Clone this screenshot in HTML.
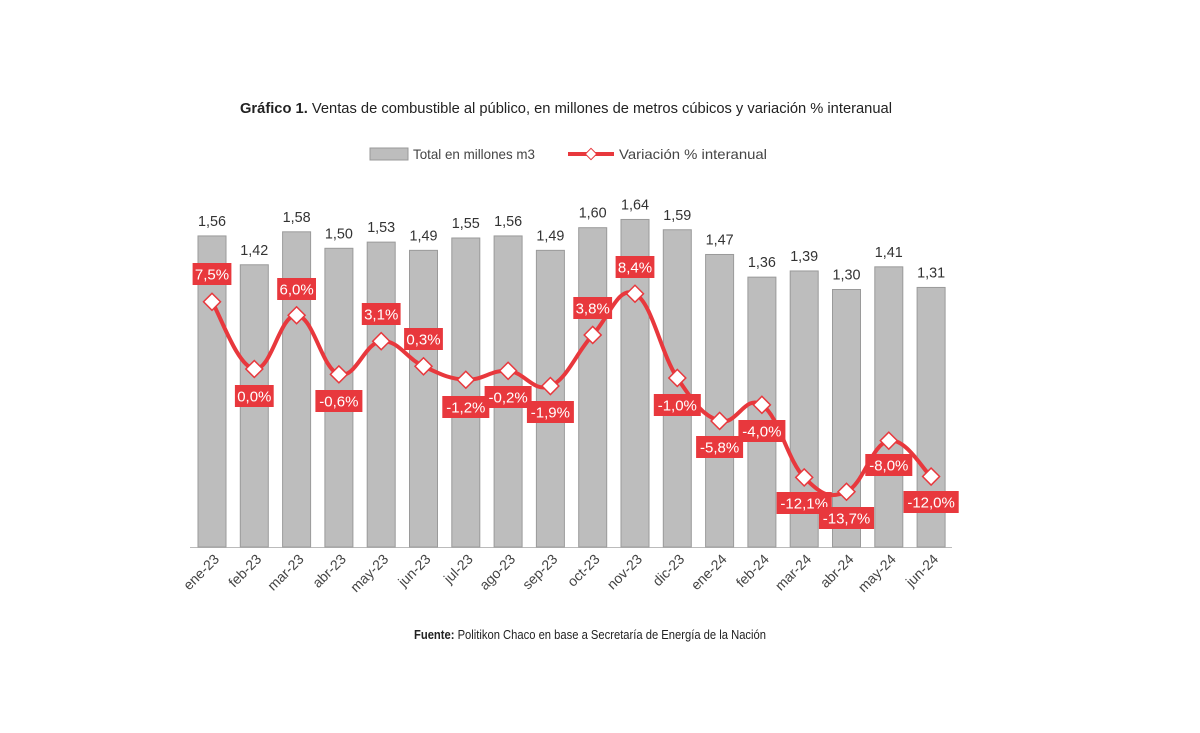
<!DOCTYPE html>
<html><head><meta charset="utf-8"><style>
body{margin:0;background:#fff;width:1200px;height:733px;overflow:hidden}
svg{display:block;font-family:"Liberation Sans",sans-serif}
</style></head><body>
<svg id="s" width="1200" height="733" viewBox="0 0 1200 733"></svg>
<script>
const bars=[1.56,1.42,1.58,1.50,1.53,1.49,1.55,1.56,1.49,1.60,1.64,1.59,1.47,1.36,1.39,1.30,1.41,1.31];
const vars=[7.5,0.0,6.0,-0.6,3.1,0.3,-1.2,-0.2,-1.9,3.8,8.4,-1.0,-5.8,-4.0,-12.1,-13.7,-8.0,-12.0];
const labY=[274,396,289,401,314,339,407,397,412,308,267,405,447,431,503,518,465,502];
const cats=["ene-23","feb-23","mar-23","abr-23","may-23","jun-23","jul-23","ago-23","sep-23","oct-23","nov-23","dic-23","ene-24","feb-24","mar-24","abr-24","may-24","jun-24"];
const R="#e8383d";
let h='';
h+='<text x="566" y="113" font-size="14.5" text-anchor="middle" fill="#222" textLength="652" lengthAdjust="spacingAndGlyphs"><tspan font-weight="bold">Gráfico 1.</tspan> Ventas de combustible al público, en millones de metros cúbicos y variación % interanual</text>';
h+='<rect x="370" y="148" width="38" height="12" fill="#bdbdbd" stroke="#999"/><text x="413" y="159" font-size="14" fill="#444" textLength="122" lengthAdjust="spacingAndGlyphs">Total en millones m3</text>';
h+='<line x1="568" y1="154" x2="614" y2="154" stroke="'+R+'" stroke-width="4"/><rect x="587" y="150" width="8" height="8" fill="#fff" stroke="'+R+'" transform="rotate(45 591 154)"/><text x="619" y="159" font-size="14" fill="#444" textLength="148" lengthAdjust="spacingAndGlyphs">Variación % interanual</text>';
const cx=i=>212+i*42.3;
h+='<line x1="190" y1="547.5" x2="952" y2="547.5" stroke="#bbb"/>';
bars.forEach((v,i)=>{const t=547-206*(v-0.05);
h+=`<rect x="${cx(i)-14}" y="${t}" width="28" height="${547-t}" fill="#bdbdbd" stroke="#9a9a9a"/>`;
h+=`<text x="${cx(i)}" y="${t-10}" font-size="15" text-anchor="middle" fill="#333" textLength="28" lengthAdjust="spacingAndGlyphs">${v.toFixed(2).replace('.',',')}</text>`;
h+=`<text transform="translate(${cx(i)+8},${560}) rotate(-45)" font-size="14" text-anchor="end" fill="#444">${cats[i]}</text>`;});
const py=v=>369-8.96*v;
const P=vars.map((v,i)=>[cx(i),py(v)]);
let d=`M${P[0][0]},${P[0][1]}`;
for(let i=0;i<P.length-1;i++){const p0=P[Math.max(0,i-1)],p1=P[i],p2=P[i+1],p3=P[Math.min(P.length-1,i+2)];const k=0.2;
d+=` C${p1[0]+(p2[0]-p0[0])*k},${p1[1]+(p2[1]-p0[1])*k} ${p2[0]-(p3[0]-p1[0])*k},${p2[1]-(p3[1]-p1[1])*k} ${p2[0]},${p2[1]}`;}
h+=`<path d="${d}" fill="none" stroke="${R}" stroke-width="4"/>`;
P.forEach(p=>{h+=`<rect x="${p[0]-6}" y="${p[1]-6}" width="12" height="12" fill="#fff" stroke="${R}" stroke-width="1.5" transform="rotate(45 ${p[0]} ${p[1]})"/>`;});
vars.forEach((v,i)=>{const s=v.toFixed(1).replace('.',',')+'%';const w=s.length*8.2+6;
h+=`<rect x="${cx(i)-w/2}" y="${labY[i]-11}" width="${w}" height="22" fill="${R}"/><text x="${cx(i)}" y="${labY[i]+5.5}" font-size="15" text-anchor="middle" fill="#fff">${s}</text>`;});
h+='<text x="590" y="639" font-size="13" text-anchor="middle" fill="#222" textLength="352" lengthAdjust="spacingAndGlyphs"><tspan font-weight="bold">Fuente:</tspan> Politikon Chaco en base a Secretaría de Energía de la Nación</text>';
document.getElementById('s').innerHTML=h;
</script>
</body></html>
